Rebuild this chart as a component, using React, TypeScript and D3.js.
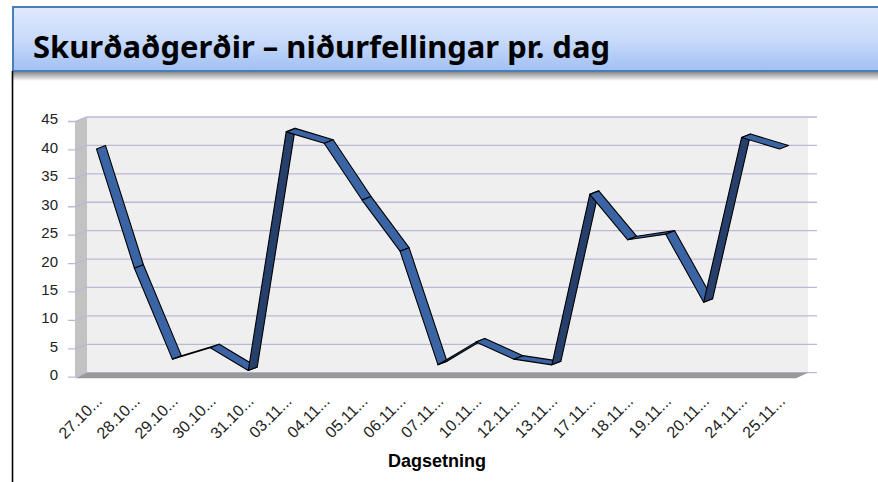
import React from "react";
import * as d3 from "d3";

const categories = ["27.10", "28.10", "29.10", "30.10", "31.10", "03.11", "04.11", "05.11", "06.11", "07.11", "10.11", "12.11", "13.11", "17.11", "18.11", "19.11", "20.11", "24.11", "25.11"];
const values = [40, 19, 3, 5, 1, 43, 41, 31, 22, 2, 6, 3, 2, 32, 24, 25, 13, 42, 40];
const yTicks = [0, 5, 10, 15, 20, 25, 30, 35, 40, 45];
const title = "Skurðaðgerðir – niðurfellingar pr. dag";
const xTitle = "Dagsetning";

const W = 878, H = 482;
const wallX0 = 87, wallX1 = 808;
const wallTop = 117, wallBottom = 372.7;
const depthX = 12, depthY = 4.5; // front offset (-depthX, +depthY)
const ribX = 9, ribY = -3.5; // ribbon depth vector

export default function App() {
  const x = d3.scaleBand<string>().domain(categories).range([wallX0, wallX1]);
  const y = d3.scaleLinear().domain([0, 45]).range([wallBottom, wallTop]);
  const bx = (c: string) => (x(c) as number) + x.bandwidth() / 2;

  const pts = categories.map((c, i) => ({ fx: bx(c) - 9.5, fy: y(values[i]) + 3.5 }));
  const segs = [] as { d: string; fill: string }[];
  for (let i = 0; i < pts.length - 1; i++) {
    const a = pts[i], b = pts[i + 1];
    const sx = b.fx - a.fx, sy = b.fy - a.fy;
    const cross = sx * ribY - sy * ribX;
    const d = `M${a.fx},${a.fy}L${b.fx},${b.fy}L${b.fx + ribX},${b.fy + ribY}L${a.fx + ribX},${a.fy + ribY}Z`;
    segs.push({ d, fill: cross < 0 ? "#3a64a4" : "#263f6b" });
  }

  const font = "'Liberation Sans', Arial, sans-serif";

  return (
    <svg width={W} height={H} style={{ position: "absolute", left: 0, top: 0, background: "#fff" }}>
      <defs>
        <linearGradient id="tb" x1="0" y1="0" x2="0" y2="1">
          <stop offset="0" stopColor="#dfe9fc" />
          <stop offset="0.5" stopColor="#c9dbfa" />
          <stop offset="1" stopColor="#a2c0f3" />
        </linearGradient>
        <linearGradient id="sh" x1="0" y1="0" x2="0" y2="1">
          <stop offset="0" stopColor="#8a8a8a" />
          <stop offset="1" stopColor="#ffffff" />
        </linearGradient>
      </defs>

      {/* title bar */}
      <rect x={13} y={72} width={W} height={9} fill="url(#sh)" />
      <rect x={13} y={7} width={W} height={64} fill="url(#tb)" stroke="#4a7ebb" strokeWidth={2} />
      <text x={33} y={58} fontFamily="'Noto Sans', sans-serif" fontWeight="bold" fontSize={30} fill="#000" textLength={577} lengthAdjust="spacingAndGlyphs">{title}</text>
      <line x1={12.5} y1={71} x2={12.5} y2={H} stroke="#000" strokeWidth={1.6} />

      {/* back wall */}
      <rect x={wallX0} y={wallTop} width={wallX1 - wallX0} height={wallBottom - wallTop} fill="#efefef" />
      {/* left wall */}
      <path d={`M${wallX0},${wallTop}L${wallX0 - depthX},${wallTop + depthY}L${wallX0 - depthX},${wallBottom + depthY}L${wallX0},${wallBottom}Z`} fill="#c2c2c2" />
      {/* gridlines */}
      {yTicks.map((t) => (
        <g key={t}>
          <path d={`M${wallX0 - depthX - 7},${y(t) + depthY}L${wallX0 - depthX},${y(t) + depthY}L${wallX0},${y(t)}L${wallX1 + 9},${y(t)}`} fill="none" stroke="#b9b9d6" strokeWidth={1.3} />
          <text x={58} y={y(t) + depthY - 1} textAnchor="end" dominantBaseline="middle" fontFamily={font} fontSize={15} fill="#222">{t}</text>
        </g>
      ))}
      {/* floor */}
      <path d={`M${wallX0},${wallBottom}L${wallX1},${wallBottom}L${wallX1 - depthX},${wallBottom + depthY + 1}L${wallX0 - depthX},${wallBottom + depthY + 1}Z`} fill="#999" />

      {/* ribbon line */}
      {segs.map((s, i) => (
        <path key={i} d={s.d} fill={s.fill} stroke="#000" strokeWidth={1.1} strokeLinejoin="round" />
      ))}

      {/* x labels */}
      {categories.map((c) => (
        <text key={c} transform={`translate(${bx(c) - 3},402) rotate(-45)`} textAnchor="end" fontFamily={font} fontSize={16} fill="#222">{c + "..."}</text>
      ))}
      <text x={437} y={467} textAnchor="middle" fontFamily={font} fontWeight="bold" fontSize={18} fill="#000">{xTitle}</text>
    </svg>
  );
}
